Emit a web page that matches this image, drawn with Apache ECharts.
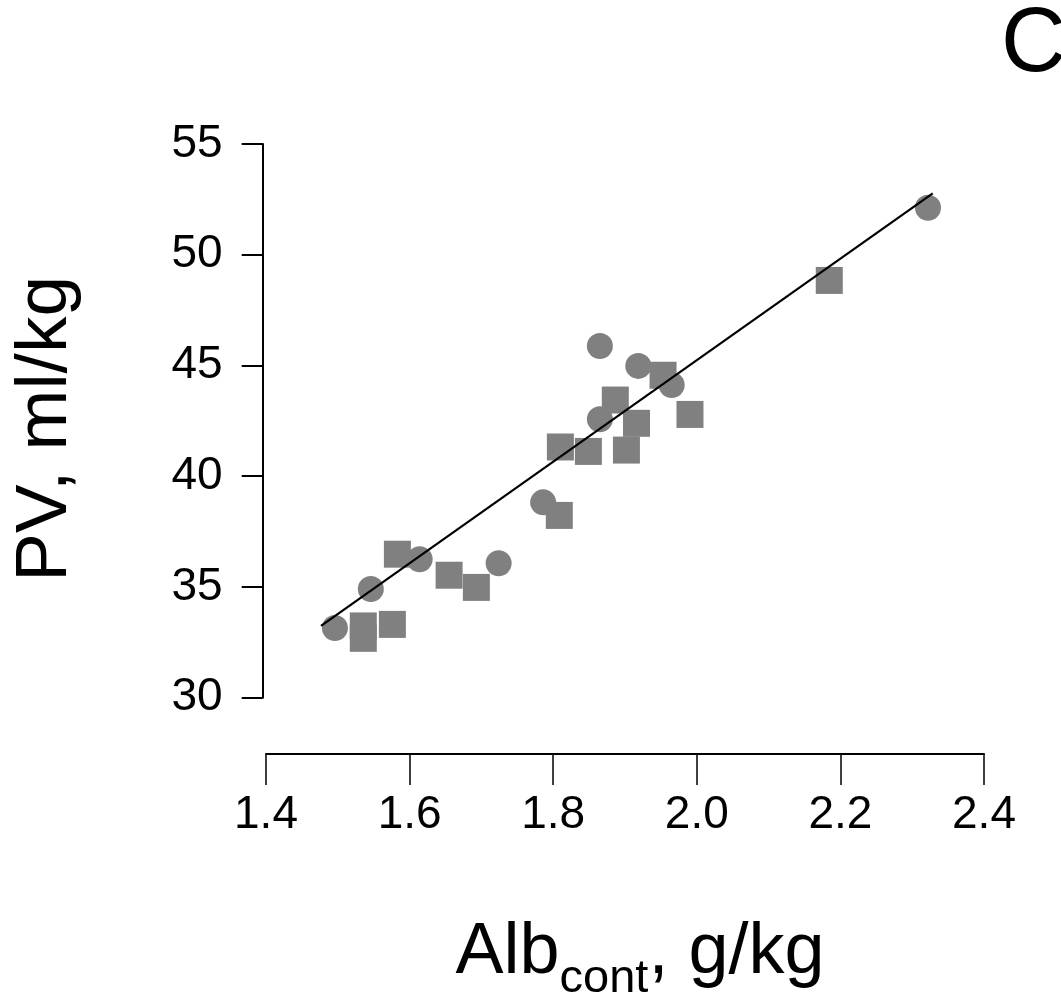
<!DOCTYPE html>
<html>
<head>
<meta charset="utf-8">
<script src="https://cdn.jsdelivr.net/npm/echarts@6/dist/echarts.min.js"></script>
<style>
html,body{margin:0;padding:0;background:#fff;}
#chart{width:1061px;height:1000px;}
</style>
</head>
<body>
<div id="chart"></div>
<script>
// Circles (group 1)
var circleX = [1.496, 1.546, 1.614, 1.724, 1.786, 1.865, 1.865, 1.9185, 1.965, 2.322];
var circleY = [33.15, 34.91, 36.25, 36.07, 38.82, 42.57, 45.88, 44.98, 44.12, 52.12];
// Squares (group 2)
var squareX = [1.5355, 1.5355, 1.576, 1.583, 1.655, 1.693, 1.8085, 1.81, 1.849, 1.902, 1.8865, 1.916, 1.953, 1.9905, 2.1845];
var squareY = [33.24, 32.68, 33.31, 36.48, 35.53, 34.98, 38.23, 41.32, 41.12, 41.18, 43.44, 42.39, 44.56, 42.79, 48.84];
// Regression line end points
var fitX = [1.4766, 2.3286];
var fitY = [33.24, 52.77];

function pairs(xs, ys) { return xs.map(function (x, i) { return [x, ys[i]]; }); }

var FONT = "'Liberation Sans', Arial, sans-serif";
var chart = echarts.init(document.getElementById('chart'), null, {renderer: 'canvas'});
chart.setOption({
  backgroundColor: '#fff',
  animation: false,
  title: {
    text: 'C', left: 996, top: -4,
    textStyle: {fontFamily: FONT, fontSize: 90, fontWeight: 'normal', color: '#000'}
  },
  grid: {left: 266, right: 77, top: 144, bottom: 302.3, containLabel: false, outerBoundsMode: 'none'},
  xAxis: {
    type: 'value', min: 1.4, max: 2.4, interval: 0.2,
    offset: 56.3,
    splitLine: {show: false},
    axisLine: {show: true, onZero: false, lineStyle: {color: '#000', width: 2}},
    axisTick: {show: true, length: 31, lineStyle: {color: '#000', width: 1.5}},
    axisLabel: {margin: 38, fontFamily: FONT, fontSize: 46, color: '#000',
      formatter: function (v) { return v.toFixed(1); }},
    name: '{a|Alb}{s|cont}{a|, g/kg}',
    nameLocation: 'middle', nameGap: 163,
    nameTextStyle: {
      padding: [0, 0, 0, 30],
      rich: {
        a: {fontFamily: FONT, fontSize: 72, lineHeight: 86, verticalAlign: 'top', color: '#000'},
        s: {fontFamily: FONT, fontSize: 47, verticalAlign: 'bottom', color: '#000'}
      }
    }
  },
  yAxis: {
    type: 'value', min: 30, max: 55, interval: 5,
    offset: 3.3,
    splitLine: {show: false},
    axisLine: {show: true, onZero: false, lineStyle: {color: '#000', width: 2}},
    axisTick: {show: true, length: 21, lineStyle: {color: '#000', width: 2}},
    axisLabel: {margin: 40, fontFamily: FONT, fontSize: 46, color: '#000'},
    name: 'PV, ml/kg',
    nameLocation: 'middle', nameGap: 180,
    nameTextStyle: {fontFamily: FONT, fontSize: 73, color: '#000', padding: [0, 16, 0, 0]}
  },
  series: [
    {
      type: 'scatter', symbol: 'circle', symbolSize: 26,
      itemStyle: {color: '#808080', opacity: 1},
      data: pairs(circleX, circleY), z: 2
    },
    {
      type: 'scatter', symbol: 'rect', symbolSize: 27,
      itemStyle: {color: '#808080', opacity: 1},
      data: pairs(squareX, squareY), z: 2
    },
    {
      type: 'line', symbol: 'none',
      lineStyle: {color: '#000', width: 2.2},
      data: pairs(fitX, fitY), z: 5
    }
  ]
});
</script>
</body>
</html>
